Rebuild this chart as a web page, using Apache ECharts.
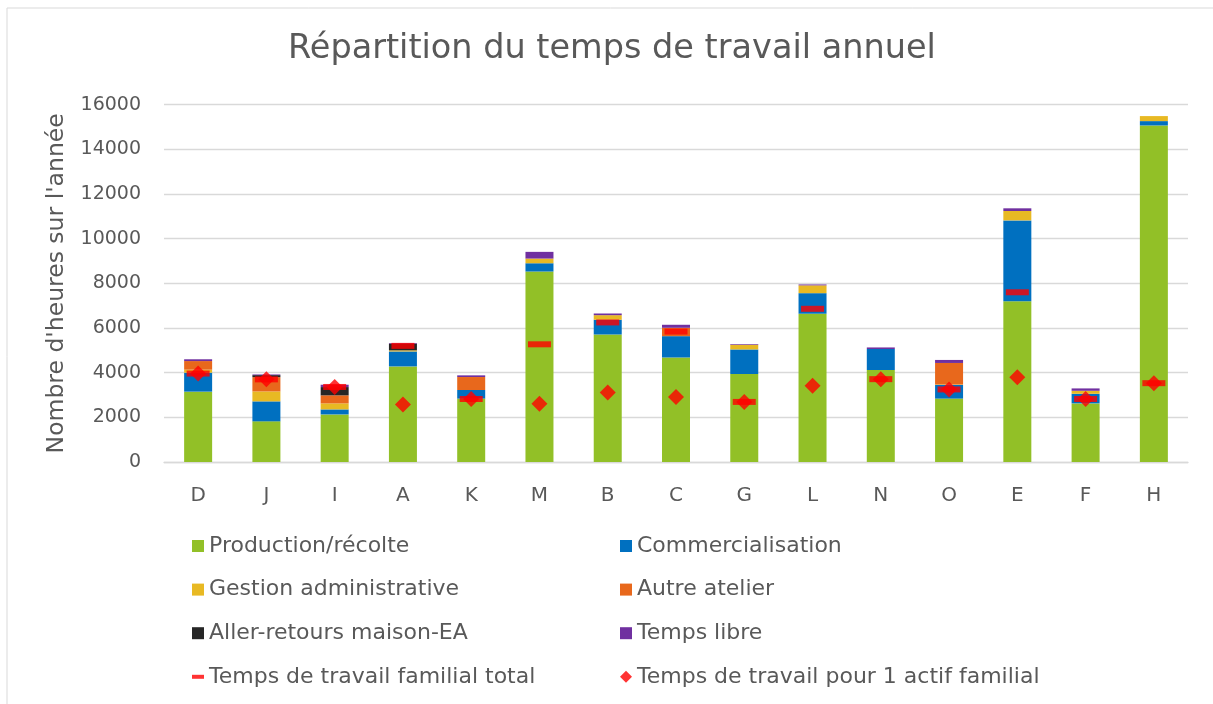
<!DOCTYPE html>
<html>
<head>
<meta charset="utf-8">
<script src="https://cdn.jsdelivr.net/npm/echarts@6/dist/echarts.min.js"></script>
<style>
html,body{margin:0;padding:0;background:#fff;}
#c{width:1213px;height:704px;}
</style>
</head>
<body>
<div id="c"></div>
<script>
const categories = ['D','J','I','A','K','M','B','C','G','L','N','O','E','F','H'];
const production = [3150,1820,2130,4280,2840,8530,5710,4680,3940,6640,4120,2840,7200,2625,15070];
const commercialisation = [850,895,225,670,385,370,660,955,1100,920,940,610,3620,430,195];
const gestion = [135,445,270,50,0,210,205,0,210,350,0,20,420,135,225];
const autreAtelier = [385,640,360,0,580,0,0,375,0,0,0,965,0,0,0];
const allerRetours = [0,90,370,300,0,0,0,0,0,0,0,0,0,0,0];
const tempsLibre = [80,30,105,30,75,300,75,135,30,40,70,135,120,105,0];
const familialTotal = [3960,3700,3360,5200,2820,5270,6250,5840,2690,6860,3710,3250,7600,2820,3530];
const parActif = [3960,3700,3360,2580,2820,2610,3110,2910,2690,3420,3710,3250,3800,2820,3530];
const yTicks = [0,2000,4000,6000,8000,10000,12000,14000,16000];

const FONT = "'DejaVu Sans', sans-serif";
const TXT = '#595959';
const chart = echarts.init(document.getElementById('c'), null, {renderer:'canvas'});

function bar(name, data, color){
  return {name, type:'bar', stack:'t', data, barWidth:28,
    itemStyle:{color}, emphasis:{disabled:true}};
}
const dashPath = 'path://M0,4 L12,4 L12,8 L0,8 Z';
const legendText = {color:TXT, fontSize:22, fontFamily:FONT};

const option = {
  animation:false,
  backgroundColor:'#fff',
  textStyle:{fontFamily:FONT},
  graphic:[{type:'rect', shape:{x:7,y:8,width:1230,height:720}, style:{fill:'none', stroke:'#d9d9d9', lineWidth:1}, silent:true}],
  title:{text:'Répartition du temps de travail annuel', left:283, top:27,
    textStyle:{fontFamily:FONT, fontSize:33.5, fontWeight:'normal', color:TXT}},
  grid:{left:164, right:25, top:104.7, bottom:242, containLabel:false},
  xAxis:{type:'category', data:categories,
    axisLine:{lineStyle:{color:'#d9d9d9', width:1.3}}, axisTick:{show:false},
    axisLabel:{color:TXT, fontSize:20, margin:24, fontFamily:FONT}},
  yAxis:{type:'value', min:0, max:yTicks[yTicks.length-1], interval:2000,
    name:"Nombre d'heures sur l'année", nameLocation:'middle', nameGap:95,
    nameTextStyle:{color:TXT, fontSize:23.5, fontFamily:FONT},
    axisLine:{show:false}, axisTick:{show:false},
    splitLine:{lineStyle:{color:'#d9d9d9', width:1.3}},
    axisLabel:{color:TXT, fontSize:19, margin:23, fontFamily:FONT, formatter:v=>String(v)}},
  legend:[
    {orient:'vertical', left:187, top:530, itemWidth:12, itemHeight:12, itemGap:21.6,
      textStyle:legendText,
      data:[{name:'Production/récolte', icon:'rect'},{name:'Gestion administrative', icon:'rect'},
            {name:'Aller-retours maison-EA', icon:'rect'},{name:'Temps de travail familial total', icon:dashPath}]},
    {orient:'vertical', left:615, top:530, itemWidth:12, itemHeight:12, itemGap:21.6,
      textStyle:legendText,
      data:[{name:'Commercialisation', icon:'rect'},{name:'Autre atelier', icon:'rect'},
            {name:'Temps libre', icon:'rect'},{name:'Temps de travail pour 1 actif familial', icon:'diamond'}]}
  ],
  series:[
    bar('Production/récolte', production, '#92C027'),
    bar('Commercialisation', commercialisation, '#0070C0'),
    bar('Gestion administrative', gestion, '#E8B923'),
    bar('Autre atelier', autreAtelier, '#E8681C'),
    bar('Aller-retours maison-EA', allerRetours, '#262626'),
    bar('Temps libre', tempsLibre, '#7030A0'),
    {name:'Temps de travail familial total', type:'scatter', data:familialTotal, symbol:'rect',
      symbolSize:[23,6], itemStyle:{color:'#FF0000'}, z:5},
    {name:'Temps de travail pour 1 actif familial', type:'scatter', data:parActif, symbol:'diamond',
      symbolSize:16, itemStyle:{color:'#FF0000'}, z:6}
  ]
};
chart.setOption(option);
</script>
</body>
</html>
